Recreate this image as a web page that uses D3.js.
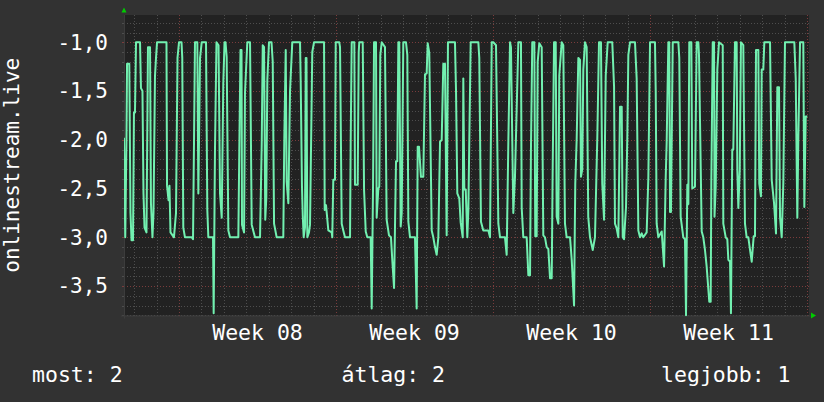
<!DOCTYPE html>
<html><head><meta charset="utf-8">
<script src="https://cdn.jsdelivr.net/npm/d3@7"></script>
<style>html,body{margin:0;padding:0;background:#323232;} svg{display:block;}</style>
</head><body><svg id="c" width="824" height="402"></svg>
<script>
const yAxisTitle = "onlinestream.live";
const weekLabels = ["Week 08", "Week 09", "Week 10", "Week 11"];
const weekMidHours = [84, 252, 420, 588];
const yTickValues = [-3.5, -3.0, -2.5, -2.0, -1.5, -1.0];
const legendLabels = ["most", "átlag", "legjobb"];
const legendValues = ["2", "2", "1"];
const timeDomain = [-58.85, 674.1];   // hours relative to start of Week 08
const valueDomain = [-3.802, -0.72];
// [hour, value]
const streamData = [
[-58.9,-1.98],[-57.5,-3.0],[-56.2,-1.98],[-55.6,-1.22],[-53.2,-1.22],[-51.9,-2.75],[-50.8,-3.03],[-49.2,-3.03],[-48.2,-1.72],[-47.1,-1.72],[-46.0,-1.0],[-41.7,-1.0],[-40.7,-1.47],[-39.1,-1.5],[-38.0,-2.55],[-36.9,-2.9],[-34.8,-2.95],[-33.2,-1.05],[-31.0,-1.05],[-30.0,-2.65],[-28.4,-3.0],[-27.3,-2.75],[-25.7,-1.35],[-24.6,-1.16],[-23.5,-1.0],[-13.4,-1.0],[-12.8,-2.47],[-11.2,-2.62],[-10.2,-2.47],[-9.1,-2.95],[-5.4,-3.0],[-3.2,-2.75],[-1.6,-1.16],[0,-1.0],[2.7,-1.0],[3.5,-1.16],[4.6,-2.9],[6.4,-3.0],[13.6,-3.0],[15.0,-3.02],[16.1,-1.98],[17.1,-1.0],[19.6,-1.0],[20.7,-2.55],[22.5,-1.16],[24.3,-1.0],[28.9,-1.0],[30.3,-2.72],[31.4,-3.0],[36.4,-3.0],[37.1,-3.78],[38.5,-2.1],[40.1,-1.0],[42.3,-1.03],[43.9,-2.55],[45.7,-2.8],[47.4,-1.42],[48.7,-1.0],[49.8,-1.0],[51.0,-1.15],[52.8,-2.93],[54.6,-3.0],[63.5,-3.0],[64.5,-2.12],[65.8,-1.08],[66.9,-1.08],[67.4,-2.87],[69.6,-2.95],[70.6,-1.52],[73.1,-1.0],[76.0,-1.0],[77.8,-2.87],[81.3,-3.0],[86.7,-3.0],[88.5,-2.05],[89.6,-1.03],[91.0,-1.05],[92.3,-2.82],[93.4,-2.6],[94.5,-1.39],[96.3,-1.0],[99.0,-1.0],[100.3,-1.2],[101.7,-2.86],[104.5,-3.0],[111.6,-3.0],[112.7,-1.97],[114.2,-1.08],[115.2,-2.43],[117.0,-2.65],[118.8,-1.5],[121.2,-1.0],[129.5,-1.0],[130.2,-1.39],[131.6,-2.48],[132.4,-2.77],[133.4,-3.0],[134.8,-2.9],[135.6,-1.16],[136.4,-1.16],[137.3,-3.0],[139.1,-2.95],[140.2,-2.87],[142.6,-1.1],[144.5,-1.0],[155.2,-1.0],
[155.9,-2.72],[157.3,-2.67],[159.8,-2.93],[163.4,-2.95],[164.0,-3.0],[165.1,-2.41],[166.9,-2.41],[167.7,-1.0],[171.5,-1.0],[172.3,-1.05],[174.1,-2.86],[175.8,-2.93],[177.6,-3.0],[183.0,-3.0],[183.7,-2.02],[184.8,-1.0],[187.6,-1.0],[188.3,-2.46],[191.2,-2.46],[192.3,-1.1],[192.9,-1.0],[196.6,-1.0],[198.0,-2.51],[199.8,-2.94],[201.5,-3.0],[205.1,-3.0],[206.2,-3.73],[207.6,-2.5],[208.7,-1.0],[210.8,-1.0],[211.5,-2.8],[213.3,-2.5],[214.3,-2.48],[215.4,-1.13],[216.9,-1.0],[220.4,-1.05],[222.2,-2.82],[224.7,-2.98],[226.8,-3.0],[228.2,-3.23],[230.1,-3.52],[231.1,-2.9],[232.2,-2.22],[233.6,-2.22],[234.7,-1.0],[235.7,-1.0],[237.2,-2.89],[238.3,-2.75],[240.0,-1.0],[242.9,-1.0],[244.3,-1.13],[245.4,-2.84],[247.2,-3.0],[252.5,-3.0],[254.3,-3.73],[255.4,-2.07],[256.8,-2.07],[258.9,-2.38],[261.4,-2.38],[263.2,-1.33],[265.0,-1.32],[266.1,-1.01],[267.8,-1.11],[270.4,-2.93],[272.1,-3.0],[273.9,-3.1],[275.7,-3.18],[277.5,-3.0],[279.3,-2.02],[281.1,-2.0],[282.8,-1.22],[284.6,-1.22],[286.4,-2.98],[287.8,-1.0],[295.3,-1.0],[296.4,-1.49],[297.8,-2.55],[299.9,-2.6],[301.4,-2.85],[303.6,-3.0],[304.2,-1.37],[305.3,-2.51],[306.8,-2.51],[308.5,-3.0],[309.6,-2.72],[312.1,-1.0],[320.3,-1.0],[321.3,-1.16],[323.1,-2.84],[325.6,-2.93],[331.0,-2.93],[332.8,-3.0],[334.6,-1.0],[336.3,-1.0],[339.2,-1.03],[341.7,-2.86],[343.5,-3.0],[348.8,-3.0],[350.6,-3.18],[352.4,-2.02],[354.2,-1.0],[355.2,-1.05],[357.7,-2.75],[359.5,-2.38],[363.1,-1.0],[365.9,-1.0],
[366.7,-2.7],[368.4,-3.0],[372.0,-3.0],[373.8,-3.39],[375.6,-3.39],[376.6,-2.09],[378.0,-1.0],[380.2,-1.0],[381.2,-2.99],[382.7,-2.99],[383.8,-1.2],[385.5,-1.01],[388.1,-1.05],[389.8,-2.98],[391.6,-3.0],[393.4,-3.1],[395.2,-3.12],[397.0,-3.42],[398.8,-3.42],[399.9,-2.24],[401.3,-1.0],[403.1,-1.0],[404.1,-2.79],[405.9,-2.86],[406.9,-1.34],[409.5,-1.0],[411.2,-1.03],[413.0,-2.86],[414.8,-3.0],[418.4,-3.0],[420.2,-3.23],[422.7,-3.7],[424.0,-2.45],[425.5,-2.0],[427.3,-1.16],[429.1,-1.18],[430.1,-2.38],[431.5,-2.3],[432.6,-1.28],[434.4,-1.0],[436.2,-1.05],[437.9,-2.79],[439.8,-3.0],[442.7,-3.13],[445.1,-3.0],[447.6,-1.97],[449.4,-1.0],[451.5,-1.0],[452.9,-2.45],[454.8,-2.82],[456.6,-1.34],[458.7,-1.0],[463.6,-1.0],[465.5,-1.45],[466.5,-2.86],[468.3,-2.91],[470.1,-3.0],[471.9,-1.66],[473.7,-1.66],[474.8,-3.0],[476.2,-3.02],[478.3,-2.69],[479.7,-1.97],[480.8,-1.13],[482.6,-1.0],[487.9,-1.0],[489.7,-1.37],[491.5,-2.93],[493.3,-3.0],[495.1,-2.96],[496.8,-3.0],[500.4,-2.95],[502.2,-2.39],[504.0,-1.0],[509.3,-1.0],[510.1,-1.5],[511.1,-2.86],[512.9,-3.0],[516.5,-2.94],[519.0,-3.3],[520.8,-2.38],[521.8,-2.03],[523.6,-1.0],[524.6,-1.0],[525.4,-2.74],[526.4,-2.74],[528.3,-1.0],[534.3,-1.0],[535.3,-1.16],[536.8,-2.79],[539.6,-3.0],[541.4,-3.02],[542.5,-3.8],[543.9,-2.46],[545.0,-2.66],[546.0,-1.0],[548.2,-1.0],[549.2,-2.5],[552.1,-2.48],[553.9,-1.0],[555.7,-1.0],[556.4,-1.13],[559.3,-2.94],[561.0,-3.0],[562.8,-3.13],[564.6,-3.3],[567.4,-3.66],[568.9,-3.66],[569.6,-2.43],[571.1,-1.0],[572.5,-1.0],[573.0,-2.79],[574.3,-2.48],[576.0,-1.28],[577.8,-1.0],[581.8,-1.03],[582.4,-2.86],[585.0,-3.0],[586.7,-3.02],[587.8,-3.23],[589.6,-3.25],[590.6,-3.78],[592.0,-2.1],[593.1,-2.1],[594.9,-1.0],[596.7,-1.0],[597.4,-2.31],[598.5,-2.7],[600.0,-2.31],[601.3,-1.0],[603.8,-1.03],[605.6,-2.86],[607.4,-3.0],[609.2,-3.0],[611.0,-3.13],[612.8,-3.25],[614.9,-2.99],[616.3,-2.99],[617.4,-1.08],[619.9,-1.08],[620.9,-2.45],[622.7,-2.58],[623.5,-1.28],[625.2,-1.28],[626.3,-1.0],[632.4,-1.0],[634.2,-2.41],[636.7,-2.65],[638.8,-2.96],[640.2,-1.46],[642.0,-1.46],[643.1,-2.79],[644.9,-3.0],[646.6,-2.45],[648.4,-1.0],[658.4,-1.0],[659.9,-1.37],[661.6,-2.8],[662.7,-1.97],[664.5,-1.0],[668.0,-1.0],[669.1,-2.69],[670.6,-1.76],[672.3,-1.76]
];

const W = 824, H = 402;
const plot = {left: 124, right: 809, top: 15, bottom: 315.5};
const font = "'DejaVu Sans Mono', monospace";
const svg = d3.select("#c");

svg.append("rect").attr("width", W).attr("height", H).attr("fill", "#323232");
svg.append("rect").attr("x", plot.left).attr("y", plot.top)
  .attr("width", plot.right - plot.left).attr("height", plot.bottom - plot.top).attr("fill", "#222222");

const x = d3.scaleLinear().domain(timeDomain).range([plot.left, plot.right]);
const y = d3.scaleLinear().domain(valueDomain).range([plot.bottom, plot.top]);

// horizontal grid
const gridVals = d3.range(-38, -7).map(i => i / 10);
const isMajorV = v => Math.abs(Math.round(v * 10) % 5) === 0;
const g = svg.append("g");
gridVals.forEach(v => {
  const yy = Math.round(y(v)) + 0.5;
  const maj = isMajorV(v);
  g.append("line").attr("x1", plot.left).attr("x2", plot.right + 2).attr("y1", yy).attr("y2", yy)
    .attr("stroke", maj ? "#7a3c3c" : "#4e4e4e").attr("stroke-width", 1).attr("stroke-dasharray", "1,2");
  g.append("line").attr("x1", plot.left - 2).attr("x2", plot.left).attr("y1", yy).attr("y2", yy)
    .attr("stroke", maj ? "#7a3c3c" : "#4e4e4e");
});
// vertical grid (days / weeks)
d3.range(-48, 674, 24).forEach(h => {
  const xx = Math.round(x(h)) + 0.5;
  const maj = (h % 168) === 0;
  g.append("line").attr("x1", xx).attr("x2", xx).attr("y1", plot.top).attr("y2", plot.bottom + 2)
    .attr("stroke", maj ? "#7a3c3c" : "#4e4e4e").attr("stroke-width", 1).attr("stroke-dasharray", "1,2");
});

// axis lines
svg.append("line").attr("x1", plot.left + 0.5).attr("x2", plot.left + 0.5).attr("y1", plot.top).attr("y2", plot.bottom + 3)
  .attr("stroke", "#3c3c3c");
svg.append("line").attr("x1", plot.left - 3).attr("x2", plot.right + 2).attr("y1", plot.bottom + 0.5).attr("y2", plot.bottom + 0.5)
  .attr("stroke", "#3c3c3c");

// arrows
svg.append("path").attr("d", d3.line()([[plot.left - 2.5, 12.5], [plot.left + 2.5, 12.5], [plot.left, 7.5]]) + "Z").attr("fill", "#00cc00");
svg.append("path").attr("d", d3.line()([[plot.right + 2, plot.bottom - 3], [plot.right + 2, plot.bottom + 3], [plot.right + 7, plot.bottom]]) + "Z").attr("fill", "#00cc00");

// data line
svg.append("clipPath").attr("id", "clip").append("rect")
  .attr("x", plot.left).attr("y", plot.top).attr("width", plot.right - plot.left).attr("height", plot.bottom - plot.top + 1);
svg.append("path").datum(streamData)
  .attr("clip-path", "url(#clip)")
  .attr("d", d3.line().x(d => x(d[0])).y(d => y(d[1])))
  .attr("fill", "none").attr("stroke", "#72f0b0").attr("stroke-width", 2).attr("stroke-linejoin", "round");

// y tick labels
const fmt = v => d3.format(".1f")(v).replace(".", ",").replace("−", "-");
svg.append("g").selectAll("text").data(yTickValues).join("text")
  .attr("x", 108).attr("y", d => y(d)).attr("dy", "0.35em").attr("text-anchor", "end")
  .attr("fill", "#ffffff").attr("font-family", font).attr("font-size", 21).text(fmt);

// week labels
svg.append("g").selectAll("text").data(weekLabels).join("text")
  .attr("x", (d, i) => x(weekMidHours[i])).attr("y", 339.5).attr("text-anchor", "middle")
  .attr("fill", "#ffffff").attr("font-family", font).attr("font-size", 21.5).text(d => d);

// y title (centred on the plot area)
svg.append("text").attr("transform", `translate(18.5,${(plot.top + plot.bottom) / 2}) rotate(-90)`).attr("text-anchor", "middle")
  .attr("fill", "#ffffff").attr("font-family", font).attr("font-size", 21).text(yAxisTitle);

// legend
const legendX = [32, 341.5, 790.5];
const legendAnchor = ["start", "start", "end"];
svg.append("g").selectAll("text").data(legendLabels).join("text")
  .attr("x", (d, i) => legendX[i]).attr("y", 382).attr("text-anchor", (d, i) => legendAnchor[i])
  .attr("fill", "#ffffff").attr("font-family", font).attr("font-size", 21.5)
  .text((d, i) => d + ": " + legendValues[i]);
</script></body></html>
